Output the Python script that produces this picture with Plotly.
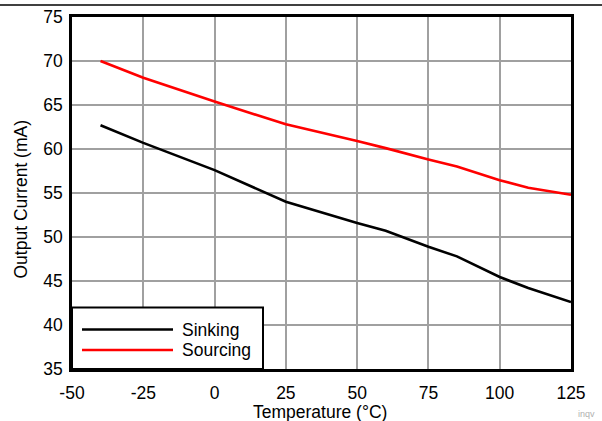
import plotly.graph_objects as go

temperature = [-40, -25, 0, 25, 50, 60, 75, 85, 100, 110, 125]
sinking = [62.7, 60.7, 57.6, 54.0, 51.6, 50.7, 48.9, 47.8, 45.45, 44.2, 42.6]
sourcing = [70.0, 68.1, 65.4, 62.8, 60.9, 60.1, 58.8, 58.0, 56.45, 55.6, 54.8]
series_names = ["Sinking", "Sourcing"]
series_colors = ["#000000", "#ff0000"]
x_ticks = [-50, -25, 0, 25, 50, 75, 100, 125]
x_ticktext = ["-50", "-25", "0", "25", "50", "75", "100", "125"]
y_ticks = [35, 40, 45, 50, 55, 60, 65, 70, 75]
x_title = "Temperature (°C)"
y_title = "Output Current (mA)"

FONT = "Liberation Sans, Arial, sans-serif"
FS = 17.5

fig = go.Figure()
for name, vals, col in zip(series_names, [sinking, sourcing], series_colors):
    fig.add_trace(go.Scatter(x=temperature, y=vals, mode="lines", name=name,
                             line=dict(color=col, width=2.6), showlegend=False))

W, H = 602, 421
ml, mr, mt, mb = 72, 31, 17, 52
pw, ph = W - ml - mr, H - mt - mb

def px2x(px):
    return (px - ml) / pw

def py2y(py):
    return 1 - (py - mt) / ph

fig.update_layout(
    width=W, height=H,
    margin=dict(l=ml, r=mr, t=mt, b=mb, autoexpand=False),
    paper_bgcolor="white", plot_bgcolor="white",
    font=dict(family=FONT, size=FS, color="black"),
    xaxis=dict(range=[-50, 125], tickvals=x_ticks, ticktext=x_ticktext, showgrid=True,
               gridcolor="#a0a0a0", gridwidth=2, zeroline=False, showline=True, mirror=True,
               linecolor="black", linewidth=2.5, ticks="", ticklabelstandoff=6,
               automargin=False),
    yaxis=dict(range=[35, 75], tickvals=y_ticks, showgrid=True, gridcolor="#a0a0a0",
               gridwidth=2, zeroline=False, showline=True, mirror=True, linecolor="black",
               linewidth=2.5, ticks="", ticklabelstandoff=3, automargin=False),
)

# axis titles
fig.add_annotation(xref="paper", yref="paper", x=px2x(320), y=py2y(412), text=x_title,
                   showarrow=False, xanchor="center", yanchor="middle",
                   font=dict(size=FS, color="black"))
fig.add_annotation(xref="paper", yref="paper", x=px2x(20), y=py2y(199.5), text=y_title,
                   showarrow=False, xanchor="center", yanchor="middle", textangle=-90,
                   font=dict(size=FS, color="black"))

# Custom legend box
shapes = [
    dict(type="rect", xref="paper", yref="paper", x0=0, x1=px2x(263), y0=0, y1=py2y(307.5),
         fillcolor="white", line=dict(color="black", width=2), layer="above"),
    dict(type="line", xref="paper", yref="paper", x0=-ml / pw, x1=1 + mr / pw,
         y0=py2y(5), y1=py2y(5), line=dict(color="black", width=1.5), layer="above"),
]
legend_y = [329.5, 350]
for name, col, ly in zip(series_names, series_colors, legend_y):
    shapes.append(dict(type="line", xref="paper", yref="paper", x0=px2x(82), x1=px2x(173),
                       y0=py2y(ly), y1=py2y(ly), line=dict(color=col, width=2.6), layer="above"))
    fig.add_annotation(xref="paper", yref="paper", x=px2x(180), y=py2y(ly), text=name,
                       showarrow=False, xanchor="left", yanchor="middle",
                       font=dict(size=FS, color="black"))
fig.update_layout(shapes=shapes)

fig.add_annotation(xref="paper", yref="paper", x=px2x(576), y=py2y(414), text="inqv",
                   showarrow=False, xanchor="left", yanchor="middle",
                   font=dict(size=9, color="#b0b0b0"))

fig.write_html("out.html", config={"displayModeBar": False},
               post_script="document.body.style.margin='0';")
